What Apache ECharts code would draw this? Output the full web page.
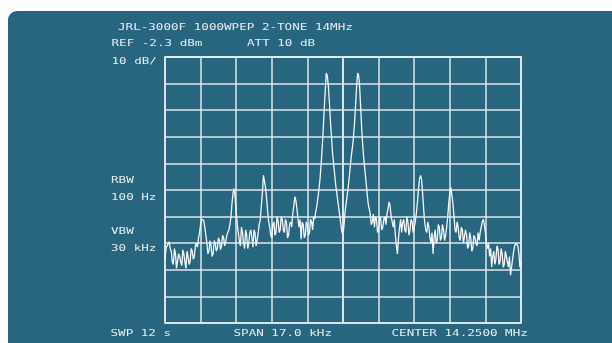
<!DOCTYPE html>
<html>
<head>
<meta charset="utf-8">
<script src="https://cdn.jsdelivr.net/npm/echarts@6/dist/echarts.min.js"></script>
<style>
html,body{margin:0;padding:0;background:#ffffff;}
#chart{width:612px;height:343px;}
</style>
</head>
<body>
<div id="chart"></div>
<script>
// Frequency offset from centre (Hz), span 17.0 kHz, 1.7 kHz / div
const freqHz = [
-8500,-8450,-8400,-8350,-8300,-8250,-8200,-8150,-8100,-8050,-8000,-7950,-7900,-7850,-7800,-7750,-7700,-7650,-7600,-7550,
-7500,-7450,-7400,-7350,-7300,-7250,-7200,-7150,-7100,-7050,-7000,-6950,-6900,-6850,-6800,-6750,-6700,-6650,-6600,-6550,
-6500,-6450,-6400,-6350,-6300,-6250,-6200,-6150,-6100,-6050,-6000,-5950,-5900,-5850,-5800,-5750,-5700,-5650,-5600,-5550,
-5500,-5450,-5400,-5350,-5300,-5250,-5200,-5150,-5100,-5050,-5000,-4950,-4900,-4850,-4800,-4750,-4700,-4650,-4600,-4550,
-4500,-4450,-4400,-4350,-4300,-4250,-4200,-4150,-4100,-4050,-4000,-3950,-3900,-3850,-3800,-3750,-3700,-3650,-3600,-3550,
-3500,-3450,-3400,-3350,-3300,-3250,-3200,-3150,-3100,-3050,-3000,-2950,-2900,-2850,-2800,-2750,-2700,-2650,-2600,-2550,
-2500,-2450,-2400,-2350,-2300,-2250,-2200,-2150,-2100,-2050,-2000,-1950,-1900,-1850,-1800,-1750,-1700,-1650,-1600,-1550,
-1500,-1450,-1400,-1350,-1300,-1250,-1200,-1150,-1100,-1050,-1000,-950,-900,-850,-800,-750,-700,-650,-600,-550,
-500,-450,-400,-350,-300,-250,-200,-150,-100,-50,0,50,100,150,200,250,300,350,400,450,
500,550,600,650,700,750,800,850,900,950,1000,1050,1100,1150,1200,1250,1300,1350,1400,1450,
1500,1550,1600,1650,1700,1750,1800,1850,1900,1950,2000,2050,2100,2150,2200,2250,2300,2350,2400,2450,
2500,2550,2600,2650,2700,2750,2800,2850,2900,2950,3000,3050,3100,3150,3200,3250,3300,3350,3400,3450,
3500,3550,3600,3650,3700,3750,3800,3850,3900,3950,4000,4050,4100,4150,4200,4250,4300,4350,4400,4450,
4500,4550,4600,4650,4700,4750,4800,4850,4900,4950,5000,5050,5100,5150,5200,5250,5300,5350,5400,5450,
5500,5550,5600,5650,5700,5750,5800,5850,5900,5950,6000,6050,6100,6150,6200,6250,6300,6350,6400,6450,
6500,6550,6600,6650,6700,6750,6800,6850,6900,6950,7000,7050,7100,7150,7200,7250,7300,7350,7400,7450,
7500,7550,7600,7650,7700,7750,7800,7850,7900,7950,8000,8050,8100,8150,8200,8250,8300,8350,8400,8450,
8500
];
// Level relative to reference (dB), 10 dB / div
const levelDb = [
-76,-72,-71,-70.5,-69.5,-72,-73,-77,-78,-72,-74,-79.5,-79,-74,-75,-77,-78.5,-72.5,-74,-77,
-79.5,-73,-75,-78,-77,-72,-73,-76,-75,-71,-70,-71.5,-68,-66,-63,-61,-60.5,-61.5,-64,-67,
-70,-74,-73,-69,-71,-75,-74,-69,-70,-73,-72,-68,-69,-72.5,-71,-67,-68,-71,-69.5,-67,
-66,-65,-63,-60,-55,-51,-49.5,-53,-58,-63,-66,-69,-71,-64,-66,-70,-72,-65,-67,-72,
-70,-66,-65,-68,-71.5,-65,-66,-71,-69,-66,-63,-61,-56,-51,-44.5,-45,-49,-53,-58,-62,
-64,-67,-68,-63,-62,-67,-66,-60,-61.5,-66,-65,-60,-61,-65,-66,-61,-62,-68,-67,-63,
-62,-64,-59,-56,-52.5,-54,-57,-61,-64,-61,-68.5,-62,-63,-68,-67,-62,-63,-67,-66,-61,
-62,-65,-60,-61,-58,-56,-53,-50,-46,-41,-35,-28,-20,-13,-6,-7,-11,-17,-24,-30,
-36,-40,-44,-48,-51,-54,-57,-60,-63,-66,-67,-63,-58,-55,-52,-49,-45,-41,-37,-34,
-30,-25,-18,-11,-6,-7,-12,-20,-28,-34,-39,-43,-47,-51,-55,-57,-59,-63,-62,-59,
-64,-60,-61,-66,-65,-60,-61,-65,-64,-61,-60,-63,-59,-57,-54.5,-56,-60,-62,-64,-61,
-67,-71,-74,-68,-64,-61,-66,-62,-61,-65,-66,-60,-62,-67,-65,-61,-62,-66,-64,-62,
-59,-55,-50,-46,-44.5,-46,-51,-57,-62,-65,-66,-62,-64,-68,-70,-66,-74,-68,-65,-70,
-69,-63,-64,-69,-68,-63,-65,-69,-67,-64,-60,-55,-51,-49,-49.5,-55,-60,-65,-66,-62,
-64,-68,-69,-64,-65,-70,-70,-65,-67,-72,-71,-66,-68,-73,-72,-67,-68,-70,-71,-66,
-69,-66,-64,-62,-61,-63,-66,-70,-72,-70,-75,-72,-79,-75,-73,-78,-76,-71,-72,-78,
-77,-72,-74,-79,-78,-73,-75,-77,-79,-75,-82,-79,-76,-73,-71,-70,-69.5,-71,-74,-79,
-77
];
const titleText = 'JRL-3000F 1000WPEP 2-TONE 14MHz';
const refText = 'REF -2.3 dBm';
const attText = 'ATT 10 dB';
const scaleText = '10 dB/';
const rbwLabel = 'RBW';
const rbwValue = '100 Hz';
const vbwLabel = 'VBW';
const vbwValue = '30 kHz';
const swpText = 'SWP 12 s';
const spanText = 'SPAN 17.0 kHz';
const centerText = 'CENTER 14.2500 MHz';

const chart = echarts.init(document.getElementById('chart'), null, {renderer: 'canvas'});
const panel = '#28667f';
const gridCol = 'rgba(232,239,242,0.95)';
const txtCol = '#e4ecef';
const FONT = '8.5px "DejaVu Sans Mono"';
function label(text, x, y) {
  return {
    type: 'text', x: x, y: y, scaleX: 1.48, z: 5,
    style: { text: text, font: FONT, fill: txtCol, verticalAlign: 'middle', align: 'left' }
  };
}
const points = freqHz.map((f, i) => [f, levelDb[i]]);
chart.setOption({
  animation: false,
  backgroundColor: '#ffffff',
  graphic: [
    { type: 'rect', z: -10, shape: { x: 8, y: 11, width: 640, height: 360, r: 9 }, style: { fill: panel } },
    label(titleText, 118, 27.5),
    label(refText, 111.5, 43.5),
    label(attText, 247, 43.5),
    label(scaleText, 111.5, 62),
    label(rbwLabel, 111, 181),
    label(rbwValue, 111, 198),
    label(vbwLabel, 111, 232),
    label(vbwValue, 111, 249),
    label(swpText, 110.5, 333.5),
    label(spanText, 233.5, 333.5),
    label(centerText, 391.5, 333.5)
  ],
  grid: { left: 165, top: 57, width: 356, height: 266, show: true, borderColor: gridCol, borderWidth: 1.5, backgroundColor: 'transparent' },
  xAxis: {
    type: 'value', min: -8500, max: 8500, interval: 1700,
    axisLabel: { show: false }, axisTick: { show: false },
    axisLine: { show: true, lineStyle: { color: gridCol, width: 1.5 } },
    splitLine: { show: true, lineStyle: { color: gridCol, width: 1.5 } }
  },
  yAxis: {
    type: 'value', min: -100, max: 0, interval: 10,
    axisLabel: { show: false }, axisTick: { show: false },
    axisLine: { show: true, lineStyle: { color: gridCol, width: 1.5 } },
    splitLine: { show: true, lineStyle: { color: gridCol, width: 1.5 } }
  },
  series: [{
    type: 'line', data: points, showSymbol: false, symbol: 'none', smooth: false,
    lineStyle: { color: '#f4f7f8', width: 1.3 }, z: 3
  }]
});
</script>
</body>
</html>
